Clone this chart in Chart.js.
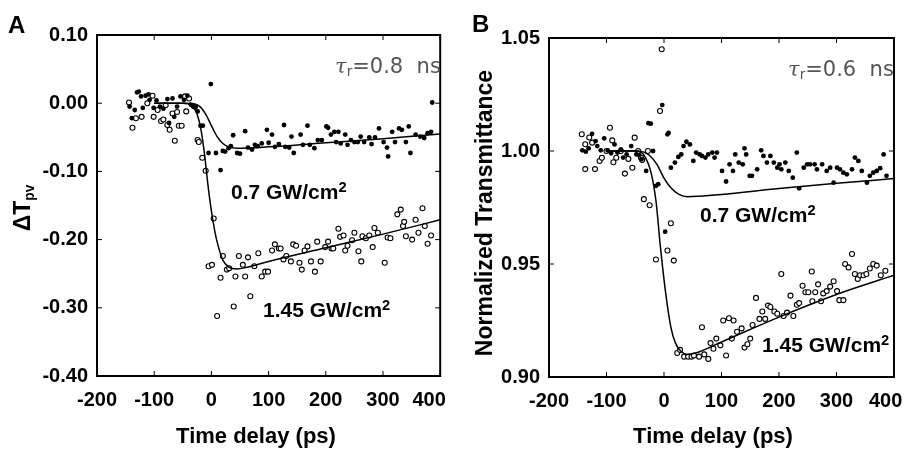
<!DOCTYPE html>
<html>
<head>
<meta charset="utf-8">
<script src="https://cdn.jsdelivr.net/npm/chart.js@4/dist/chart.umd.min.js"></script>
<style>
    html, body { margin: 0; padding: 0; background: #fff; overflow: hidden; }
    #wrap { position: relative; width: 907px; height: 450px; overflow: hidden; background: #fff; font-family: "Liberation Sans", Arial, sans-serif; }
    .panel { position: absolute; top: 0; width: 480px; height: 450px; }
    .txt { position: absolute; font-weight: bold; line-height: 1; white-space: nowrap; color: #000; }
    .letter { font-size: 24px; }
    .note { font-size: 21px; }
    .note sup { font-size: 0.7em; line-height: 0; vertical-align: 0.5em; }
    .tau { position: absolute; font-family: "DejaVu Sans", sans-serif; font-size: 21px; line-height: 1; color: #555; white-space: nowrap; }
    .tau i { font-family: "DejaVu Serif", serif; }
    .tau sub { font-size: 0.65em; line-height: 0; vertical-align: -0.25em; }
    .xtitle { font-size: 22px; transform: translateX(-50%); }
    .ytitle { font-size: 23px; transform: translate(-50%, -50%) rotate(-90deg); }
    .ytitle sub { font-size: 0.6em; line-height: 0; vertical-align: -0.3em; }
</style>
</head>
<body>
<div id="wrap">
    <div class="panel" style="left:0"><canvas id="chartA" width="480" height="450"></canvas></div>
    <div class="panel" style="left:451px"><canvas id="chartB" width="480" height="450"></canvas></div>

    <div class="txt letter" style="left:8px;top:13px">A</div>
    <div class="txt letter" style="left:472px;top:12px">B</div>

    <div class="txt ytitle" style="left:22px;top:208px">&Delta;T<sub>pv</sub></div>
    <div class="txt ytitle" style="left:484px;top:213px">Normalized Transmittance</div>
    <div class="txt xtitle" style="left:256px;top:425px">Time delay (ps)</div>
    <div class="txt xtitle" style="left:713px;top:425px">Time delay (ps)</div>

    <div class="tau" style="left:335px;top:56px"><i>&tau;</i><sub>r</sub>=0.8&nbsp;&nbsp;ns</div>
    <div class="tau" style="left:788px;top:59px"><i>&tau;</i><sub>r</sub>=0.6&nbsp;&nbsp;ns</div>

    <div class="txt note" style="left:231px;top:181px">0.7 GW/cm<sup>2</sup></div>
    <div class="txt note" style="left:263px;top:299px">1.45 GW/cm<sup>2</sup></div>
    <div class="txt note" style="left:700px;top:204px">0.7 GW/cm<sup>2</sup></div>
    <div class="txt note" style="left:762px;top:334px">1.45 GW/cm<sup>2</sup></div>
</div>

<script>
// Time delay axis, shared by both panels
const delayTicks = [-200, -100, 0, 100, 200, 300, 400];

// Panel A: pump-probe signal (Delta T_pv), [delay ps, value]
const lowA = [ // 0.7 GW/cm2, filled dots
    [-143, -0.005], [-139, -0.022], [-134, -0.010], [-130, 0.016], [-127, 0.017], [-123, 0.010], [-120, -0.007],
    [-115, 0.011], [-110, 0.013], [-108, 0.005], [-101, -0.007], [-96, 0.004], [-90, -0.005], [-84, -0.008],
    [-77, 0.006], [-74, -0.029], [-68, 0.007], [-65, -0.020], [-60, -0.005], [-54, 0.010], [-48, 0.005],
    [-42, 0.011], [-36, -0.002], [-32, -0.005], [-28, -0.006], [-24, -0.012], [-19, -0.033], [-15, -0.033],
    [-5, -0.073], [-1, 0.028], [8, -0.073], [16, -0.098], [20, -0.070], [24, -0.071], [30, -0.066], [34, -0.063],
    [38, -0.047], [45, -0.073], [50, -0.074], [59, -0.041], [64, -0.065], [71, -0.068], [76, -0.061], [81, -0.063],
    [88, -0.059], [97, -0.039], [100, -0.058], [106, -0.046], [111, -0.064], [118, -0.060], [127, -0.032],
    [129, -0.064], [136, -0.065], [140, -0.049], [144, -0.073], [156, -0.046], [160, -0.061], [168, -0.033],
    [172, -0.061], [180, -0.066], [186, -0.054], [193, -0.054], [201, -0.034], [204, -0.036], [209, -0.046],
    [215, -0.042], [218, -0.057], [222, -0.042], [226, -0.059], [234, -0.046], [238, -0.061], [244, -0.054],
    [250, -0.057], [256, -0.057], [261, -0.049], [267, -0.057], [276, -0.050], [280, -0.060], [286, -0.050],
    [293, -0.037], [301, -0.057], [307, -0.065], [309, -0.078], [316, -0.042], [321, -0.057], [328, -0.037],
    [333, -0.039], [340, -0.057], [345, -0.034], [348, -0.073], [357, -0.046], [365, -0.049], [372, -0.051],
    [378, -0.044], [384, -0.042], [386, 0.001],
];
const highA = [ // 1.45 GW/cm2, open circles
    [-144, 0.001], [-138, -0.036], [-132, -0.022], [-122, -0.020], [-112, 0.000], [-103, 0.011], [-101, -0.020],
    [-94, -0.010], [-88, -0.026], [-84, -0.024], [-80, -0.003], [-77, -0.032], [-73, -0.039], [-68, -0.015],
    [-64, -0.055], [-60, -0.013], [-57, -0.033], [-52, -0.033], [-46, 0.010], [-44, -0.012], [-39, 0.007],
    [-29, -0.005], [-24, -0.054], [-22, -0.057], [-16, -0.080], [-10, -0.099], [-5, -0.239], [1, -0.237],
    [4, -0.169], [10, -0.312], [16, -0.256], [20, -0.224], [27, -0.244], [31, -0.242], [39, -0.298], [42, -0.254],
    [48, -0.224], [55, -0.237], [59, -0.254], [64, -0.226], [68, -0.283], [75, -0.239], [82, -0.220], [88, -0.254],
    [94, -0.247], [99, -0.247], [106, -0.216], [111, -0.207], [118, -0.213], [121, -0.213], [126, -0.229],
    [131, -0.224], [139, -0.232], [143, -0.207], [148, -0.209], [154, -0.234], [158, -0.244], [163, -0.216],
    [168, -0.210], [174, -0.232], [181, -0.247], [185, -0.203], [191, -0.232], [199, -0.211], [204, -0.203],
    [210, -0.213], [213, -0.213], [222, -0.184], [225, -0.196], [231, -0.194], [234, -0.216], [238, -0.209],
    [246, -0.201], [250, -0.190], [257, -0.217], [262, -0.232], [264, -0.195], [270, -0.198], [276, -0.194],
    [282, -0.211], [285, -0.183], [291, -0.190], [303, -0.234], [308, -0.197], [313, -0.198], [325, -0.163],
    [331, -0.156], [335, -0.180], [337, -0.174], [340, -0.195], [351, -0.200], [357, -0.171], [362, -0.190],
    [369, -0.154], [373, -0.180], [378, -0.206], [384, -0.194],
];
const fitLowA = [
    [-100, 0], [-50, 0], [-30, -0.001], [-20, -0.005], [-10, -0.016], [0, -0.033], [10, -0.049], [20, -0.059],
    [30, -0.064], [45, -0.066], [100, -0.064], [200, -0.058], [300, -0.052], [400, -0.045],
];
const fitHighA = [
    [-100, 0], [-50, 0], [-40, -0.001], [-32, -0.005], [-25, -0.016], [-18, -0.040], [-12, -0.075], [-6, -0.120],
    [0, -0.158], [6, -0.188], [12, -0.210], [20, -0.230], [30, -0.240], [45, -0.243], [60, -0.241],
    [100, -0.232], [200, -0.212], [300, -0.192], [400, -0.171],
];
const yTicksA = [-0.40, -0.30, -0.20, -0.10, 0.00, 0.10];

// Panel B: normalized transmittance, [delay ps, value]
const lowB = [ // 0.7 GW/cm2, filled dots
    [-142, 1.0003], [-136, 0.9997], [-131, 1.0012], [-125, 1.0076], [-119, 1.0044], [-116, 1.0022], [-110, 1.0003],
    [-104, 1.0056], [-98, 1.0003], [-92, 0.9990], [-86, 1.0029], [-81, 0.9993], [-75, 1.0007], [-71, 0.9971],
    [-65, 0.9985], [-57, 1.0022], [-48, 0.9985], [-43, 0.9982], [-39, 0.9963], [-31, 0.9912], [-27, 1.0123],
    [-23, 1.0121], [-19, 1.0000], [-14, 0.9846], [-10, 0.9853], [-3, 1.0203], [2, 0.9643], [6, 1.0074],
    [8, 1.0080], [12, 0.9926], [19, 0.9949], [25, 0.9974], [30, 0.9985], [34, 1.0022], [39, 1.0041], [45, 1.0029],
    [51, 0.9956], [56, 0.9993], [62, 0.9985], [66, 0.9978], [72, 0.9971], [77, 0.9985], [84, 0.9993], [88, 0.9971],
    [92, 0.9993], [101, 0.9912], [108, 0.9865], [114, 0.9941], [120, 0.9912], [124, 0.9985], [130, 0.9949],
    [137, 0.9941], [140, 1.0012], [143, 0.9985], [149, 0.9890], [153, 0.9890], [162, 0.9919], [169, 1.0003],
    [173, 0.9978], [179, 0.9949], [185, 0.9978], [191, 0.9949], [197, 0.9926], [201, 0.9941], [204, 0.9919],
    [211, 0.9949], [217, 0.9912], [224, 0.9882], [231, 0.9993], [235, 0.9835], [243, 0.9926], [249, 0.9941],
    [254, 0.9941], [262, 0.9941], [266, 0.9919], [275, 0.9941], [283, 0.9912], [289, 0.9926], [295, 0.9860],
    [301, 0.9926], [306, 0.9919], [312, 0.9904], [318, 0.9897], [327, 0.9919], [332, 0.9971], [338, 0.9956],
    [344, 0.9912], [353, 0.9860], [358, 0.9890], [364, 0.9904], [370, 0.9912], [376, 0.9924], [382, 0.9985],
    [387, 0.9890],
];
const highB = [ // 1.45 GW/cm2, open circles
    [-143, 1.0074], [-137, 1.0030], [-137, 0.9920], [-130, 1.0060], [-125, 1.0037], [-120, 0.9920],
    [-112, 0.9956], [-108, 0.9970], [-100, 1.0000], [-94, 1.0103], [-90, 1.0047], [-88, 0.9950], [-83, 0.9970],
    [-75, 1.0000], [-68, 0.9900], [-62, 0.9965], [-55, 0.9926], [-51, 1.0059], [-45, 1.0000], [-40, 0.9970],
    [-38, 0.9960], [-35, 0.9787], [-28, 1.0000], [-25, 0.9760], [-14, 0.9520], [-7, 1.0177], [-4, 1.0450],
    [6, 0.9560], [12, 0.9680], [17, 0.9515], [23, 0.9106], [28, 0.9120], [35, 0.9090], [42, 0.9090],
    [48, 0.9090], [52, 0.9095], [61, 0.9090], [66, 0.9220], [70, 0.9100], [77, 0.9080], [81, 0.9150],
    [86, 0.9125], [91, 0.9170], [98, 0.9140], [103, 0.9250], [108, 0.9095], [113, 0.9260], [118, 0.9170],
    [121, 0.9250], [127, 0.9200], [135, 0.9215], [140, 0.9130], [145, 0.9145], [150, 0.9170], [154, 0.9230],
    [160, 0.9350], [166, 0.9257], [171, 0.9290], [176, 0.9257], [181, 0.9316], [185, 0.9310], [192, 0.9290],
    [197, 0.9280], [204, 0.9456], [208, 0.9270], [214, 0.9285], [220, 0.9360], [225, 0.9270], [231, 0.9320],
    [235, 0.9327], [241, 0.9404], [246, 0.9375], [251, 0.9375], [257, 0.9467], [258, 0.9335], [263, 0.9375],
    [268, 0.9410], [273, 0.9335], [277, 0.9370], [283, 0.9380], [289, 0.9400], [295, 0.9424], [301, 0.9380],
    [305, 0.9340], [312, 0.9340], [315, 0.9500], [321, 0.9485], [327, 0.9544], [332, 0.9456], [337, 0.9434],
    [341, 0.9450], [347, 0.9450], [352, 0.9456], [358, 0.9480], [364, 0.9500], [370, 0.9493], [377, 0.9450],
    [385, 0.9470],
];
const fitLowB = [
    [-100, 1.0], [-50, 1.0], [-35, 0.9995], [-25, 0.998], [-12, 0.994], [0, 0.988], [12, 0.9837], [26, 0.9808],
    [41, 0.9798], [60, 0.9800], [100, 0.9808], [200, 0.9834], [300, 0.9857], [400, 0.9878],
];
const fitHighB = [
    [-100, 1.0], [-50, 1.0], [-40, 0.9995], [-32, 0.997], [-23, 0.991], [-14, 0.978], [-6, 0.957], [3, 0.937],
    [12, 0.922], [20, 0.915], [29, 0.9115], [40, 0.910], [55, 0.9106], [100, 0.9155], [200, 0.9265],
    [300, 0.9365], [400, 0.945],
];
const yTicksB = [0.90, 0.95, 1.00, 1.05];


Chart.defaults.font.family = '"Liberation Sans", Arial, sans-serif';
Chart.defaults.color = '#000';

const toPoints = pairs => pairs.map(([x, y]) => ({ x, y }));

// Plot frame plus inward tick marks on all four sides, placed through the chart's own scales.
const frameTicks = {
    id: 'frameTicks',
    afterDatasetsDraw: (chart) => {
        const { ctx, chartArea: a, scales: { x, y } } = chart;
        const len = 5;
        ctx.save();
        ctx.strokeStyle = '#000';
        ctx.lineWidth = 1;
        ctx.beginPath();
        x.ticks.forEach((t) => {
            const px = x.getPixelForValue(t.value);
            ctx.moveTo(px, a.top);
            ctx.lineTo(px, a.top + len);
            ctx.moveTo(px, a.bottom);
            ctx.lineTo(px, a.bottom - len);
        });
        y.ticks.forEach((t) => {
            const py = y.getPixelForValue(t.value);
            ctx.moveTo(a.left, py);
            ctx.lineTo(a.left + len, py);
            ctx.moveTo(a.right, py);
            ctx.lineTo(a.right - len, py);
        });
        ctx.stroke();
        ctx.lineWidth = 2;
        ctx.strokeRect(a.left, a.top, a.right - a.left, a.bottom - a.top);
        ctx.restore();
    },
};

function makeChart(canvasId, cfg) {
    const ctx = document.getElementById(canvasId).getContext('2d');
    return new Chart(ctx, {
        type: 'scatter',
        data: {
            datasets: [
                { data: toPoints(cfg.fitLow), showLine: true, borderColor: '#000', borderWidth: 1.5, pointRadius: 0, cubicInterpolationMode: 'monotone' },
                { data: toPoints(cfg.fitHigh), showLine: true, borderColor: '#000', borderWidth: 1.5, pointRadius: 0, cubicInterpolationMode: 'monotone' },
                { data: toPoints(cfg.low), backgroundColor: '#000', borderColor: '#000', borderWidth: 0, pointRadius: 2.4 },
                { data: toPoints(cfg.high), backgroundColor: '#fff', borderColor: '#000', borderWidth: 1.1, pointRadius: 2.5 },
            ],
        },
        options: {
            responsive: false,
            animation: false,
            layout: { padding: { top: cfg.top, right: 480 - cfg.right, left: 0, bottom: 0 } },
            plugins: { legend: { display: false }, tooltip: { enabled: false } },
            scales: {
                x: {
                    type: 'linear',
                    min: delayTicks[0],
                    max: delayTicks[delayTicks.length - 1],
                    afterBuildTicks: (scale) => { scale.ticks = delayTicks.map(v => ({ value: v })); },
                    afterFit: (scale) => { scale.height = 450 - cfg.bottom; },
                    grid: { display: false, drawTicks: false },
                    border: { display: false },
                    ticks: {
                        padding: 12,
                        maxRotation: 0,
                        autoSkip: false,
                        font: { size: 20, weight: 'bold' },
                        // the last label sits a little left of its tick in the original
                        callback: v => (v === 400 ? `400${cfg.lastPad}` : `${v}`),
                    },
                },
                y: {
                    type: 'linear',
                    min: cfg.yTicks[0],
                    max: cfg.yTicks[cfg.yTicks.length - 1],
                    afterBuildTicks: (scale) => { scale.ticks = cfg.yTicks.map(v => ({ value: v })); },
                    afterFit: (scale) => { scale.width = cfg.left; },
                    grid: { display: false, drawTicks: false },
                    border: { display: false },
                    ticks: {
                        padding: 9,
                        autoSkip: false,
                        font: { size: 20, weight: 'bold' },
                        callback: v => (Math.abs(v) < 1e-9 ? '0.00' : v.toFixed(2)),
                    },
                },
            },
        },
        plugins: [frameTicks],
    });
}

makeChart('chartA', {
    low: lowA, high: highA, fitLow: fitLowA, fitHigh: fitHighA, yTicks: yTicksA,
    left: 97, right: 443, top: 35, bottom: 376, lastPad: '    ',
});
makeChart('chartB', {
    low: lowB, high: highB, fitLow: fitLowB, fitHigh: fitHighB, yTicks: yTicksB,
    left: 98, right: 445, top: 38, bottom: 377, lastPad: '   ',
});
</script>
</body>
</html>
